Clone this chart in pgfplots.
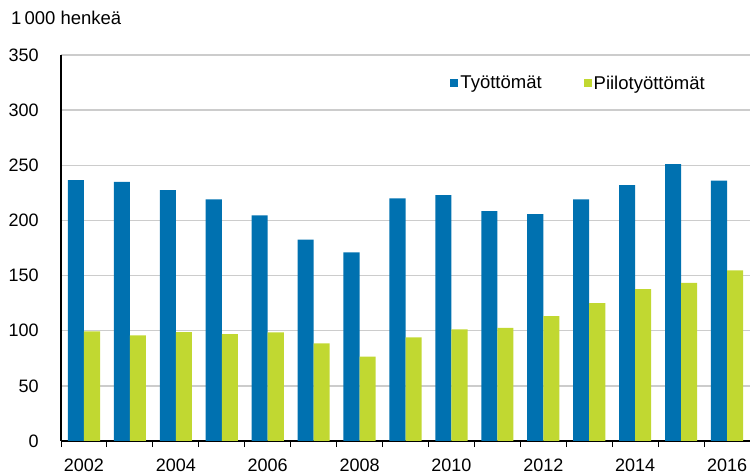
\documentclass[border=0pt]{standalone}
\usepackage{pgfplots}
\pgfplotsset{compat=1.18}
\usepackage{fontspec}
\setmainfont{Liberation Sans}
\definecolor{cblue}{RGB}{0,113,176}
\definecolor{cgreen}{RGB}{193,216,49}
\definecolor{cgrid}{RGB}{204,204,204}
\begin{document}
\begin{tikzpicture}
\useasboundingbox (0,0) rectangle (750bp,474bp);
\node[anchor=base west, inner sep=0pt, font=\fontsize{18.5bp}{21bp}\selectfont] at (11bp,449bp) {1\,000 henkeä};
\begin{axis}[
  at={(61bp,33bp)}, anchor=south west,
  scale only axis, width=689bp, height=386bp,
  xmin=-0.5, xmax=14.5, ymin=0, ymax=350,
  axis x line*=bottom, axis y line*=left,
  axis line style={black, line width=1.2bp},
  ytick={0,50,...,350},
  ymajorgrids, grid style={cgrid, line width=1.3bp},
  ytick style={draw=none},
  xtick={0,...,14},
  xticklabels={2002,,2004,,2006,,2008,,2010,,2012,,2014,,2016},
  major x tick style={draw=none},
  minor xtick={-0.5,0.5,...,14.5},
  minor tick length=6bp,
  minor x tick style={black, line width=1bp},
  tick align=outside,
  ticklabel style={font=\fontsize{18bp}{21bp}\selectfont},
  yticklabel style={inner sep=0pt, anchor=east, xshift=-18bp},
  xticklabel style={inner sep=0pt, anchor=north, yshift=-13bp},
  /pgf/number format/assume math mode=true,
  /pgf/number format/1000 sep={},
  ybar, bar width=0.35,
  legend columns=2,
  legend style={draw=none, fill=none, at={(0.565,0.927)}, anchor=west,
    font=\fontsize{18.5bp}{21bp}\selectfont, inner sep=0pt,
    /tikz/every even column/.append style={column sep=40bp}},
  legend image code/.code={\path[#1,draw=none] (0bp,-4bp) rectangle (8bp,4bp);},
]
\addplot[fill=cblue, draw=none, bar shift=-0.175] coordinates {
(0,236.5) (1,235) (2,227.5) (3,219) (4,204.5) (5,182.5) (6,171) (7,220)
(8,223) (9,208.5) (10,205.7) (11,219) (12,232) (13,251) (14,236)};
\addlegendentry{Työttömät}
\addplot[fill=cgreen, draw=none, bar shift=0.175] coordinates {
(0,99.5) (1,95.7) (2,98.7) (3,96.9) (4,98.5) (5,88.5) (6,76.5) (7,94)
(8,101.2) (9,102.6) (10,113.2) (11,125) (12,137.6) (13,143.3) (14,154.8)};
\addlegendentry{Piilotyöttömät}
\end{axis}
\end{tikzpicture}
\end{document}
